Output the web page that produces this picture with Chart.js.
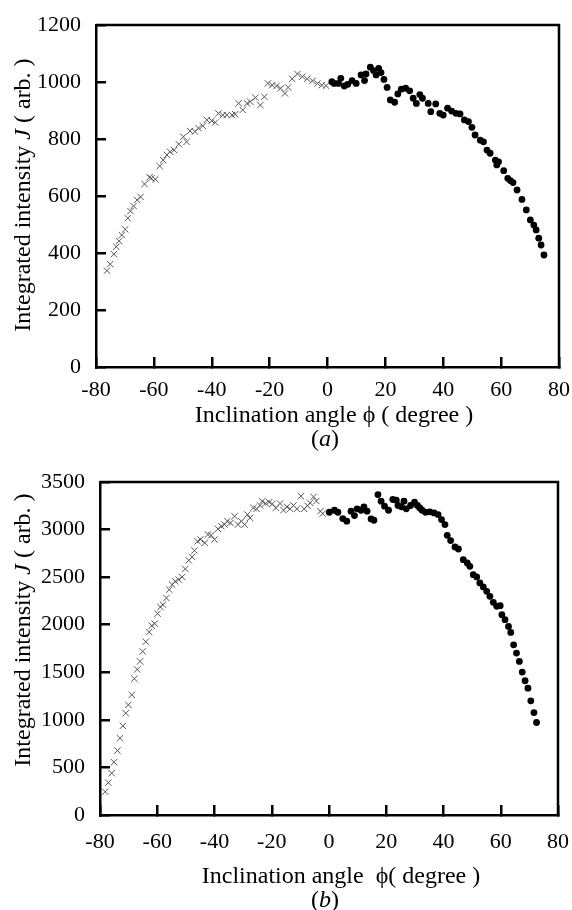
<!DOCTYPE html>
<html>
<head>
<meta charset="utf-8">
<script src="https://cdn.jsdelivr.net/npm/chart.js@4.4.0/dist/chart.umd.min.js"></script>
<style>
  body { margin: 0; background: #fff; width: 572px; height: 910px; position: relative; overflow: hidden;
         font-family: 'Liberation Serif', 'Times New Roman', serif; color: #000; }
  .cv { position: absolute; left: 0; width: 572px; height: 455px; }
  .lbl { position: absolute; transform: translate(-50%, -50%); white-space: pre; font-size: 24px; line-height: 1; }
  .ylbl { transform: translate(-50%, -50%) rotate(-90deg); }
</style>
</head>
<body>
<div class="cv" style="top:0"><canvas id="chartA"></canvas></div>
<div class="cv" style="top:455px"><canvas id="chartB"></canvas></div>

<div class="lbl ylbl" style="left:22px;top:195px">Integrated intensity <i>J</i> ( arb. )</div>
<div class="lbl" style="left:334px;top:414px">Inclination angle ϕ ( degree )</div>
<div class="lbl" style="left:325px;top:438px">(<i>a</i>)</div>

<div class="lbl ylbl" style="left:22px;top:630px">Integrated intensity <i>J</i> ( arb. )</div>
<div class="lbl" style="left:341px;top:875px">Inclination angle  ϕ( degree )</div>
<div class="lbl" style="left:325px;top:899px">(<i>b</i>)</div>

<script>
// ---- (a) ----
const phiCrossA = [-76.2,-75.1,-73.8,-73.0,-72.0,-71.1,-69.9,-69.0,-68.1,-67.0,-65.8,-64.6,-63.2,-61.5,-60.9,-59.5,
  -58.0,-56.8,-55.5,-54.4,-53.0,-51.4,-49.8,-48.7,-47.5,-45.8,-44.6,-43.1,-41.7,-40.0,-38.8,-37.7,-36.2,-34.8,-33.0,
  -31.9,-30.7,-29.3,-27.8,-26.7,-24.9,-23.2,-21.8,-20.6,-19.1,-17.6,-16.2,-14.7,-13.6,-12.2,-10.4,-8.7,-7.0,-5.2,-3.5,-2.0,-0.5];
const jCrossA = [338,361,396,422,442,463,483,522,547,565,586,597,642,666,662,659,
  705,726,744,755,761,782,808,790,828,826,838,846,867,864,858,890,884,884,884,
  887,925,902,925,931,945,919,948,995,989,986,978,960,981,1011,1028,1019,1011,1004,995,989,987];

const phiDotA = [1.5,2.3,3.8,4.6,5.8,7.0,8.5,9.9,11.6,12.8,13.3,14.8,15.9,16.8,17.7,18.5,19.5,20.6,21.7,23.2,24.3,
  25.5,27.0,28.4,29.6,30.7,31.9,32.8,34.8,35.7,37.4,38.8,40.0,41.5,42.9,44.4,45.8,47.3,48.7,49.9,51.0,52.8,53.9,
  55.1,56.2,58.0,59.1,58.5,60.9,62.3,63.2,64.1,65.5,67.2,68.7,70.1,71.3,72.1,73.0,73.8,74.8];
const jDotA = [1001,995,995,1013,986,992,1005,995,1025,1005,1028,1052,1040,1025,1048,1033,1009,981,937,929,958,
  975,978,969,943,925,956,943,925,896,923,890,884,908,898,890,888,867,861,841,814,796,790,
  761,750,726,720,709,689,662,654,647,621,588,551,516,498,481,452,428,393];

// ---- (b) ----
const phiCrossB = [-78.2,-77.1,-75.9,-75.1,-73.9,-73.0,-72.0,-71.0,-70.1,-68.9,-68.0,-67.0,-66.0,-65.1,-64.0,-62.8,
  -61.9,-60.9,-59.9,-58.9,-58.0,-56.8,-55.8,-54.8,-53.7,-52.5,-51.3,-50.2,-49.0,-47.8,-47.0,-45.9,-44.9,-43.4,-42.3,
  -41.2,-40.0,-38.8,-37.6,-36.5,-35.5,-34.4,-33.0,-31.8,-30.6,-29.5,-28.5,-27.6,-26.4,-25.3,-24.1,-23.3,-22.1,-20.9,
  -19.8,-18.6,-17.1,-15.9,-14.7,-13.6,-12.4,-11.2,-9.8,-8.7,-7.5,-6.6,-5.4,-4.4,-3.0,-2.2];
const jCrossB = [245,340,439,555,677,807,937,1070,1158,1263,1432,1530,1614,1719,1821,1923,
  1990,2011,2116,2186,2211,2281,2368,2421,2456,2474,2502,2586,2677,2712,2779,2877,2895,2860,2947,
  2940,2895,3007,3035,3053,3088,3070,3140,3053,3088,3053,3158,3123,3228,3218,3253,3298,3274,3288,
  3270,3228,3274,3204,3239,3218,3253,3218,3351,3218,3250,3281,3344,3300,3193,3168];

const phiDotB = [0.1,1.9,3.1,4.8,6.2,7.7,8.9,9.8,11.2,12.2,13.3,14.7,15.7,17.1,18.2,19.4,20.8,22.3,23.5,24.1,25.3,
  26.2,27.0,28.5,29.9,30.9,31.7,32.5,33.7,35.2,36.7,38.1,39.3,40.5,41.3,42.5,44.0,45.2,46.9,48.3,49.2,50.4,51.6,
  52.7,53.9,55.1,56.2,57.4,58.6,59.8,60.4,61.5,62.7,63.5,64.5,65.5,66.5,67.5,68.5,69.5,70.5,71.6,72.5];
const jDotB = [3182,3203,3182,3116,3088,3193,3147,3218,3203,3239,3193,3112,3098,3368,3298,3246,3203,3316,3309,3253,3239,
  3298,3218,3253,3288,3253,3228,3203,3182,3186,3175,3158,3105,3053,2940,2884,2818,2796,2684,2649,2614,2526,2502,
  2439,2397,2351,2298,2235,2193,2200,2105,2053,1982,1919,1789,1702,1614,1502,1411,1333,1200,1077,972];

const xTicks = [-80, -60, -40, -20, 0, 20, 40, 60, 80];

const pts = (xs, ys) => xs.map((x, i) => ({ x, y: ys[i] }));

const TICK_FONT = { family: "'Liberation Serif', 'Times New Roman', serif", size: 22 };

// top and right edges of the box
const framePlugin = {
  id: 'frame',
  afterDraw(chart) {
    const { ctx, chartArea: a } = chart;
    ctx.save();
    ctx.strokeStyle = '#000';
    ctx.lineWidth = 2.5;
    ctx.beginPath();
    ctx.moveTo(a.left, a.top);
    ctx.lineTo(a.right, a.top);
    ctx.lineTo(a.right, a.bottom);
    ctx.stroke();
    ctx.restore();
  }
};

function renderPanel(canvasId, crosses, dots, yMax, yStep, box) {
  const ctx = document.getElementById(canvasId)?.getContext('2d');
  if (!ctx) return null;

  return new Chart(ctx, {
    type: 'scatter',
    data: {
      datasets: [
        {
          label: 'cross',
          data: crosses,
          pointStyle: 'crossRot',
          pointRadius: 4.5,
          borderColor: '#555',
          borderWidth: 1,
          backgroundColor: '#555',
        },
        {
          label: 'dot',
          data: dots,
          pointStyle: 'circle',
          pointRadius: 3.4,
          borderWidth: 0,
          backgroundColor: '#000',
        }
      ]
    },
    options: {
      responsive: true,
      maintainAspectRatio: false,
      animation: false,
      layout: { padding: { left: 0, top: box.top, right: box.right, bottom: 0 } },
      plugins: { legend: { display: false }, tooltip: { enabled: false } },
      scales: {
        x: {
          type: 'linear',
          min: -80, max: 80,
          afterBuildTicks: s => { s.ticks = xTicks.map(v => ({ value: v })); },
          afterFit: s => { s.height = box.xh; s.paddingLeft = 0; s.paddingRight = 0; },
          border: { display: true, color: '#000', width: 2.5 },
          grid: { drawOnChartArea: false, drawTicks: true, tickLength: -10, color: '#000', lineWidth: 2.5 },
          ticks: { color: '#000', font: TICK_FONT, padding: box.xpad, maxRotation: 0, autoSkip: false,
                   callback: v => String(v) }
        },
        y: {
          type: 'linear',
          min: 0, max: yMax,
          afterFit: s => { s.width = box.yw; s.paddingTop = 0; s.paddingBottom = 0; },
          border: { display: true, color: '#000', width: 2.5 },
          grid: { drawOnChartArea: false, drawTicks: true, tickLength: -10, color: '#000', lineWidth: 2.5 },
          ticks: { stepSize: yStep, color: '#000', font: TICK_FONT, padding: 25, autoSkip: false,
                   callback: v => String(v) }
        }
      }
    },
    plugins: [framePlugin]
  });
}

renderPanel('chartA', pts(phiCrossA, jCrossA), pts(phiDotA, jDotA), 1200, 200,
  { top: 25, right: 13, yw: 96, xh: 88, xpad: 20 });
renderPanel('chartB', pts(phiCrossB, jCrossB), pts(phiDotB, jDotB), 3500, 500,
  { top: 27, right: 14, yw: 100, xh: 95, xpad: 24 });
</script>
</body>
</html>
